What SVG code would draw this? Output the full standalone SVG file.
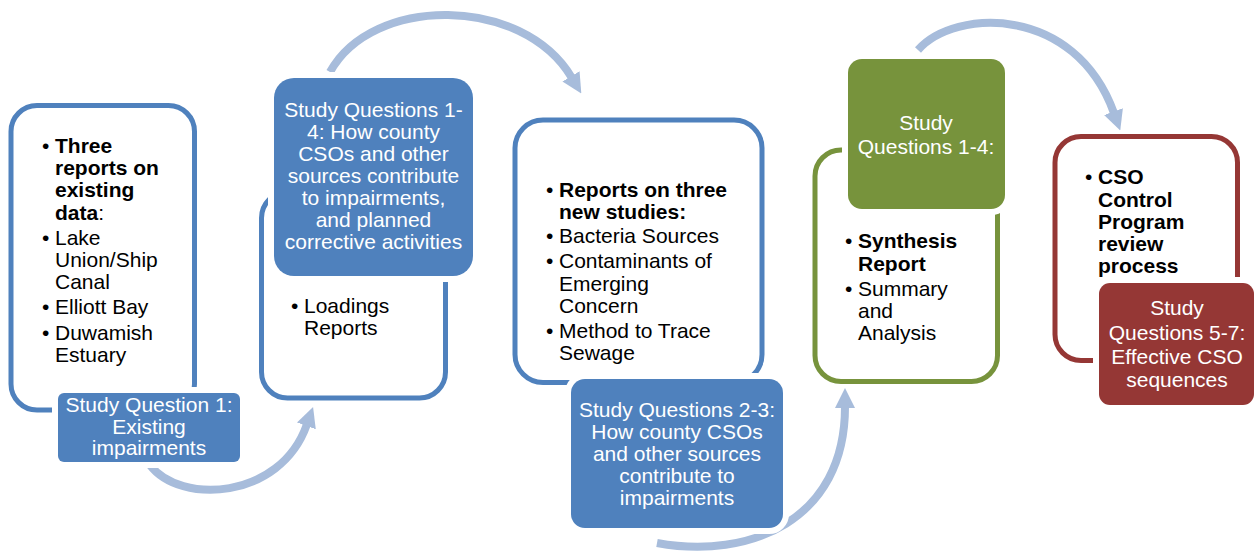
<svg xmlns="http://www.w3.org/2000/svg" width="1254" height="552" viewBox="0 0 1254 552">
  <defs>
    <marker id="head" markerUnits="userSpaceOnUse" viewBox="0 0 20 20" markerWidth="20" markerHeight="20" refX="1" refY="10" orient="auto">
      <path d="M0,0 L20,10 L0,20 z" fill="#A7BCDB"/>
    </marker>
    <style>
      text { font-family: "Liberation Sans", Arial, sans-serif; font-size: 21px; }
      .flow { fill: none; stroke: #A7BCDB; stroke-width: 8; marker-end: url(#head); }
      .frame { fill: #fff; stroke-width: 5; }
      .blue { stroke: #4F81BD; }
      .green { stroke: #77933C; }
      .red { stroke: #953735; }
      .tag { stroke: #fff; stroke-width: 12; paint-order: stroke; }
      .tag-text { fill: #fff; text-anchor: middle; }
      .body { fill: #000; }
      .b { font-weight: bold; }
    </style>
  </defs>

  <!-- curved arrows linking the stages -->
  <g id="connectors">
    <path class="flow" d="M150,465 C180,505 280,500 306.7,425"/>
    <path class="flow" d="M330,72 C372,-5 522,-5 571.5,77.2"/>
    <path class="flow" d="M657,543 C750,560 845,520 845,407"/>
    <path class="flow" d="M918,50 C955,8 1075,5 1113.8,112.6"/>
  </g>

  <!-- stage 1: existing data -->
  <g id="stage1">
    <rect class="frame blue" x="11" y="105.5" width="183.5" height="304.5" rx="26"/>
    <g class="body">
      <text x="42" y="153">•</text>
      <text x="55" y="153" class="b">Three</text>
      <text x="55" y="175.2" class="b">reports on</text>
      <text x="55" y="197.4" class="b">existing</text>
      <text x="55" y="219.6"><tspan class="b">data</tspan>:</text>
      <text x="42" y="244.8">•</text>
      <text x="55" y="244.8">Lake</text>
      <text x="55" y="267">Union/Ship</text>
      <text x="55" y="289.2">Canal</text>
      <text x="42" y="314.4">•</text>
      <text x="55" y="314.4">Elliott Bay</text>
      <text x="42" y="339.6">•</text>
      <text x="55" y="339.6">Duwamish</text>
      <text x="55" y="361.8">Estuary</text>
    </g>
    <rect class="tag" x="58" y="393" width="182" height="69" rx="6" fill="#4F81BD"/>
    <g class="tag-text">
      <text x="149" y="412">Study Question 1:</text>
      <text x="149" y="433.5">Existing</text>
      <text x="149" y="455">impairments</text>
    </g>
  </g>

  <!-- stage 2: loadings -->
  <g id="stage2">
    <rect class="frame blue" x="261.5" y="192" width="184" height="206" rx="26"/>
    <g class="body">
      <text x="291" y="313">•</text>
      <text x="304" y="313">Loadings</text>
      <text x="304" y="334.5">Reports</text>
    </g>
    <rect class="tag" x="274" y="78" width="199" height="198" rx="20" fill="#4F81BD"/>
    <g class="tag-text">
      <text x="373.5" y="117">Study Questions 1-</text>
      <text x="373.5" y="139">4: How county</text>
      <text x="373.5" y="161">CSOs and other</text>
      <text x="373.5" y="183">sources contribute</text>
      <text x="373.5" y="205">to impairments,</text>
      <text x="373.5" y="227">and planned</text>
      <text x="373.5" y="249">corrective activities</text>
    </g>
  </g>

  <!-- stage 3: new studies -->
  <g id="stage3">
    <rect class="frame blue" x="515" y="120" width="247" height="262.5" rx="28"/>
    <g class="body">
      <text x="546" y="196.7">•</text>
      <text x="559" y="196.7" class="b">Reports on three</text>
      <text x="559" y="218.5" class="b">new studies:</text>
      <text x="546" y="243.3">•</text>
      <text x="559" y="243.3">Bacteria Sources</text>
      <text x="546" y="268.3">•</text>
      <text x="559" y="268.3">Contaminants of</text>
      <text x="559" y="290.5">Emerging</text>
      <text x="559" y="312.7">Concern</text>
      <text x="546" y="338.3">•</text>
      <text x="559" y="338.3">Method to Trace</text>
      <text x="559" y="360.3">Sewage</text>
    </g>
    <rect class="tag" x="571" y="379" width="212" height="149" rx="14" fill="#4F81BD"/>
    <g class="tag-text">
      <text x="677" y="416.7">Study Questions 2-3:</text>
      <text x="677" y="438.8">How county CSOs</text>
      <text x="677" y="460.9">and other sources</text>
      <text x="677" y="483">contribute to</text>
      <text x="677" y="505">impairments</text>
    </g>
  </g>

  <!-- stage 4: synthesis -->
  <g id="stage4">
    <rect class="frame green" x="815" y="150" width="182.5" height="231.5" rx="26"/>
    <g class="body">
      <text x="845" y="248.3">•</text>
      <text x="858" y="248.3" class="b">Synthesis</text>
      <text x="858" y="270.5" class="b">Report</text>
      <text x="845" y="296.2">•</text>
      <text x="858" y="296.2">Summary</text>
      <text x="858" y="318.2">and</text>
      <text x="858" y="340.2">Analysis</text>
    </g>
    <rect class="tag" x="848" y="59" width="157" height="150" rx="14" fill="#77933C"/>
    <g class="tag-text">
      <text x="926" y="130">Study</text>
      <text x="926" y="154">Questions 1-4:</text>
    </g>
  </g>

  <!-- stage 5: CSO control program review -->
  <g id="stage5">
    <rect class="frame red" x="1055" y="136.5" width="182.5" height="224" rx="26"/>
    <g class="body">
      <text x="1085" y="184">•</text>
      <text x="1098" y="184" class="b">CSO</text>
      <text x="1098" y="206.5" class="b">Control</text>
      <text x="1098" y="229" class="b">Program</text>
      <text x="1098" y="251" class="b">review</text>
      <text x="1098" y="273.3" class="b">process</text>
    </g>
    <rect class="tag" x="1099" y="283" width="155" height="122" rx="11" fill="#953735"/>
    <g class="tag-text">
      <text x="1177" y="315">Study</text>
      <text x="1177" y="339.5">Questions 5-7:</text>
      <text x="1177" y="363.5">Effective CSO</text>
      <text x="1177" y="387">sequences</text>
    </g>
  </g>
</svg>
